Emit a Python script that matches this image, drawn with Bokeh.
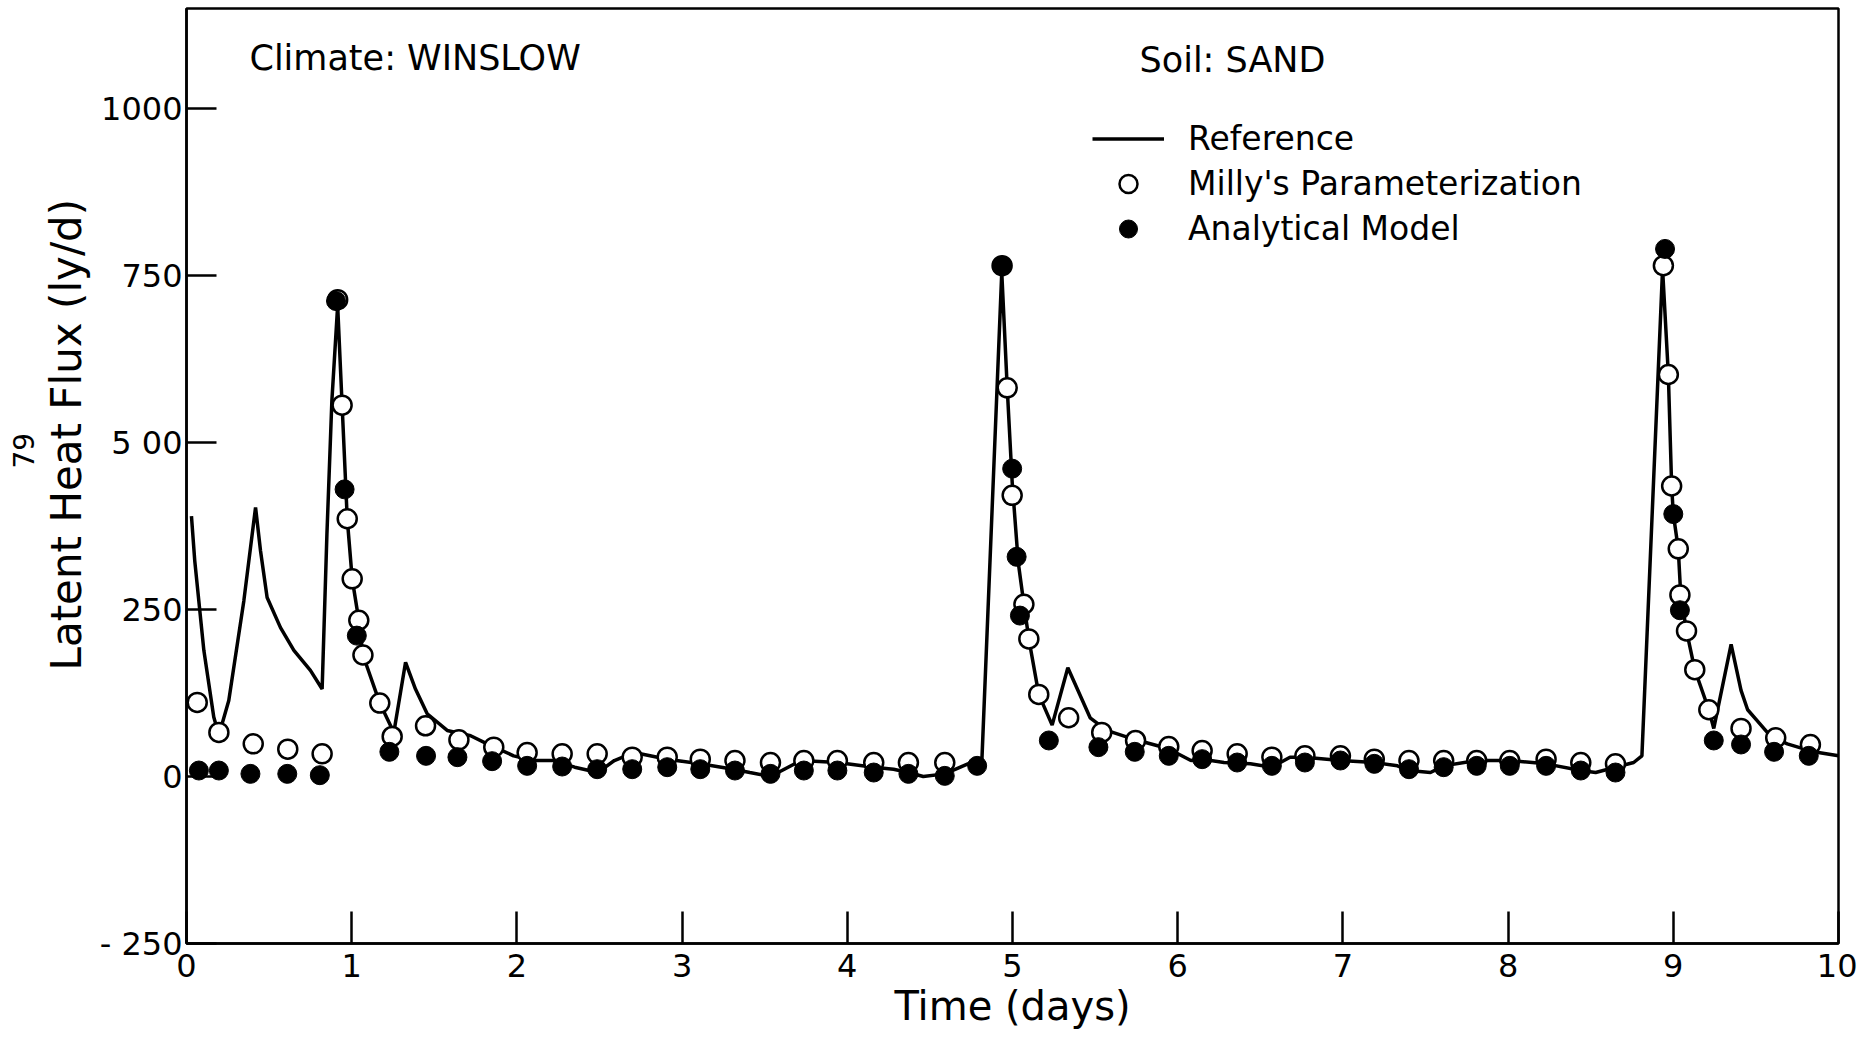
from bokeh.plotting import figure
from bokeh.models import Range1d, FixedTicker, Legend, LegendItem, Label, Title
from bokeh.embed import file_html
from bokeh.resources import INLINE

# ---------------- data ----------------
ref_day = [0.03, 0.05, 0.105, 0.165, 0.196, 0.256, 0.347, 0.418, 0.448, 0.488, 0.569, 0.65, 0.75,
           0.821, 0.85, 0.88, 0.915, 0.942, 0.973, 1.003, 1.043, 1.068, 1.17, 1.255, 1.326, 1.386,
           1.457, 1.578, 1.72, 1.82, 1.98, 2.10, 2.22, 2.35, 2.49, 2.59, 2.71, 2.91, 3.11, 3.31,
           3.41, 3.535, 3.72, 3.94, 4.16, 4.28, 4.37, 4.46, 4.59, 4.73, 4.815, 4.935, 4.968, 4.998,
           5.035, 5.069, 5.099, 5.159, 5.24, 5.335, 5.47, 5.57, 5.745, 5.94, 6.08, 6.15, 6.28,
           6.44, 6.57, 6.68, 6.77, 6.985, 7.19, 7.33, 7.40, 7.53, 7.61, 7.81, 8.01, 8.23, 8.44,
           8.53, 8.65, 8.76, 8.81, 8.935, 8.97, 8.99, 9.00, 9.03, 9.045, 9.08, 9.13, 9.215, 9.245,
           9.35, 9.41, 9.45, 9.51, 9.59, 9.69, 9.85, 10.0]
ref_flux = [390, 323, 189, 89, 62, 114, 263, 403, 338, 268, 223, 189, 159,
            131, 363, 563, 705, 556, 386, 296, 234, 182, 110, 66, 171, 131,
            94, 69, 61, 49, 31, 24, 24, 14, 6, 24, 36, 26, 19, 11,
            6, 0, 24, 21, 14, 11, 6, 0, 4, 19, 26, 755, 582, 441,
            320, 258, 206, 123, 77, 163, 88, 69, 55, 42, 24, 26, 21,
            19, 14, 29, 29, 24, 21, 16, 9, 6, 16, 24, 24, 19, 9,
            6, 14, 21, 31, 760, 602, 435, 393, 341, 272, 218, 160, 100, 72,
            198, 129, 100, 83, 60, 49, 37, 31]

milly_day = [0.065, 0.196, 0.404, 0.613, 0.821, 0.915, 0.942, 0.973, 1.003, 1.043, 1.068, 1.17,
             1.245, 1.447, 1.649, 1.86, 2.062, 2.274, 2.486, 2.698, 2.91, 3.11, 3.32, 3.535,
             3.737, 3.94, 4.16, 4.37, 4.59, 4.937, 4.968, 4.998, 5.069, 5.099, 5.159, 5.34,
             5.54, 5.745, 5.946, 6.148, 6.36, 6.57, 6.77, 6.985, 7.19, 7.40, 7.61, 7.81, 8.01,
             8.23, 8.44, 8.65, 8.94, 8.97, 8.99, 9.03, 9.04, 9.08, 9.13, 9.215, 9.41, 9.62, 9.83]
milly_flux = [111, 66, 49, 41, 34, 714, 556, 386, 296, 234, 182, 110,
              60, 76, 55, 44, 36, 34, 34, 29, 29, 26, 24, 21,
              24, 24, 21, 21, 21, 765, 582, 421, 258, 206, 123, 88,
              66, 54, 45, 39, 34, 29, 31, 31, 26, 24, 24, 24, 24,
              26, 21, 19, 765, 602, 435, 341, 272, 218, 160, 100, 72, 58, 48]

anal_day = [0.075, 0.196, 0.387, 0.61, 0.807, 0.905, 0.957, 1.031, 1.228, 1.45, 1.64, 1.85,
            2.062, 2.274, 2.486, 2.698, 2.91, 3.11, 3.32, 3.535, 3.737, 3.94, 4.16, 4.37, 4.59,
            4.786, 4.937, 4.998, 5.025, 5.045, 5.22, 5.52, 5.74, 5.946, 6.148, 6.36, 6.57, 6.77,
            6.985, 7.19, 7.40, 7.61, 7.81, 8.01, 8.23, 8.44, 8.65, 8.95, 9.00, 9.04, 9.245, 9.41,
            9.61, 9.82]
anal_flux = [9, 9, 4, 4, 2, 712, 430, 211, 37, 31, 29, 23,
             16, 15, 11, 11, 14, 11, 9, 4, 9, 9, 6, 4, 1,
             16, 765, 461, 329, 241, 54, 44, 37, 31, 26, 21, 16, 21,
             24, 19, 11, 14, 16, 16, 16, 9, 6, 790, 393, 249, 54, 48,
             37, 31]

x_ticks = [0, 1, 2, 3, 4, 5, 6, 7, 8, 9, 10]
y_ticks = [-250, 0, 250, 500, 750, 1000]
y_tick_labels = ["- 250", "0", "250", "5 00", "750", "1000"]

FONT = "DejaVu Sans"

p = figure(width=1857, height=1040, output_backend="svg", toolbar_location=None,
           x_range=Range1d(0, 10), y_range=Range1d(-250, 1150),
           min_border_left=186, min_border_right=19, min_border_top=8, min_border_bottom=97)
p.background_fill_color = "white"
p.border_fill_color = "white"
p.xgrid.visible = False
p.ygrid.visible = False
p.outline_line_color = "black"
p.outline_line_width = 2.5
p.outline_line_alpha = 1.0

for ax in (p.xaxis[0], p.yaxis[0]):
    ax.axis_line_width = 2.5
    ax.axis_line_color = "black"
    ax.major_tick_line_width = 2.5
    ax.major_tick_line_color = "black"
    ax.minor_tick_line_color = None
    ax.major_tick_out = 0
    ax.major_label_text_font = FONT
    ax.major_label_text_font_size = "32px"
    ax.major_label_text_color = "black"

p.xaxis.ticker = FixedTicker(ticks=x_ticks)
p.xaxis.major_tick_in = 32
p.xaxis.major_label_standoff = 10
p.xaxis.axis_label = "Time (days)"
p.xaxis.axis_label_text_font = FONT
p.xaxis.axis_label_text_font_size = "40px"
p.xaxis.axis_label_text_font_style = "normal"
p.xaxis.axis_label_text_color = "black"
p.xaxis.axis_label_standoff = 3

p.yaxis.ticker = FixedTicker(ticks=y_ticks)
p.yaxis.major_tick_in = 30
p.yaxis.major_label_standoff = 4
p.yaxis.major_label_overrides = {t: s for t, s in zip(y_ticks, y_tick_labels)}

r_line = p.line(ref_day, ref_flux, line_width=3.5, line_color="black")
r_open = p.scatter(milly_day, milly_flux, marker="circle", size=19, fill_color="white",
                   line_color="black", line_width=2.5)
r_fill = p.scatter(anal_day, anal_flux, marker="circle", size=19, fill_color="black",
                   line_color="black", line_width=1)

legend = Legend(items=[LegendItem(label="Reference", renderers=[r_line]),
                       LegendItem(label="Milly's Parameterization", renderers=[r_open]),
                       LegendItem(label="Analytical Model", renderers=[r_fill])],
                location=(906, 692), glyph_width=72, glyph_height=45, label_standoff=24,
                spacing=0, padding=0, margin=0, border_line_color=None,
                background_fill_alpha=0, label_text_font=FONT, label_text_font_size="33px",
                label_text_color="black")
p.add_layout(legend)

p.add_layout(Label(x=0.381, y=1076, text="Climate: WINSLOW", text_font=FONT,
                   text_font_size="35px", text_align="left", text_baseline="middle",
                   text_color="black"))
p.add_layout(Label(x=5.769, y=1073, text="Soil: SAND", text_font=FONT,
                   text_font_size="35px", text_align="left", text_baseline="middle",
                   text_color="black"))

# y-axis title and the page number, stacked outward from the y axis
p.add_layout(Title(text="Latent Heat Flux (ly/d)", align="left", offset=273,
                   text_font=FONT, text_font_size="42px", text_font_style="normal",
                   text_color="black", standoff=12), "left")
p.add_layout(Title(text="79", align="left", offset=475,
                   text_font=FONT, text_font_size="28px", text_font_style="normal",
                   text_color="black", standoff=0), "left")

open("out.html", "w").write(file_html(p, INLINE))
